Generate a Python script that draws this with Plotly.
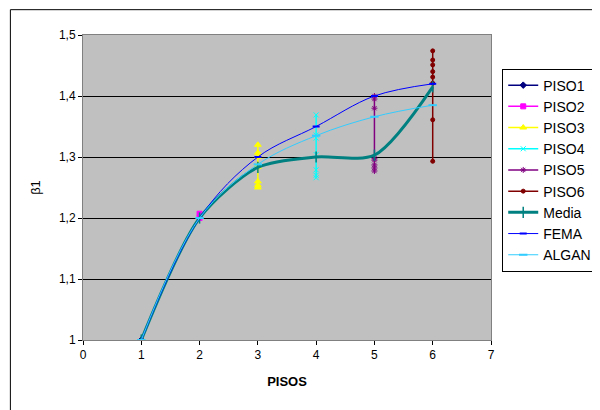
import plotly.graph_objects as go

x_media = [1, 2, 3, 4, 5, 6]
media = [1.0, 1.2, 1.283, 1.30, 1.303, 1.415]
fema = [1.0, 1.2, 1.30, 1.35, 1.40, 1.42]
algan = [1.0, 1.2, 1.288, 1.335, 1.366, 1.385]
piso_vals = {
    "PISO1": [1.0],
    "PISO2": [1.207, 1.20],
    "PISO3": [1.32, 1.307, 1.30, 1.287, 1.284, 1.26, 1.254, 1.25],
    "PISO4": [1.369, 1.336, 1.331, 1.304, 1.279, 1.27, 1.266],
    "PISO5": [1.40, 1.395, 1.38, 1.298, 1.295, 1.287, 1.282, 1.277],
    "PISO6": [1.474, 1.459, 1.451, 1.44, 1.431, 1.421, 1.361, 1.293],
}
piso_x = {"PISO1": 1, "PISO2": 2, "PISO3": 3, "PISO4": 4, "PISO5": 5, "PISO6": 6}
y_ticks = [1.0, 1.1, 1.2, 1.3, 1.4, 1.5]
y_labels = ["1", "1,1", "1,2", "1,3", "1,4", "1,5"]
styles = {
    "PISO1": ("#000080", "diamond", 5),
    "PISO2": ("#FF00FF", "square", 5),
    "PISO3": ("#FFFF00", "triangle-up", 6),
    "PISO4": ("#00FFFF", "x-thin-open", 5),
    "PISO5": ("#800080", "asterisk-open", 5),
    "PISO6": ("#800000", "circle", 4),
}

fig = go.Figure()
for name, vals in piso_vals.items():
    c, sym, sz = styles[name]
    fig.add_trace(go.Scatter(x=[piso_x[name]] * len(vals), y=vals, name=name, mode="lines+markers",
                             line=dict(color=c, width=1.5),
                             marker=dict(color=c, symbol=sym, size=sz, line=dict(color=c, width=1))))
fig.add_trace(go.Scatter(x=x_media, y=media, name="Media", mode="lines+markers",
                         line=dict(color="#008080", width=3, shape="spline", smoothing=0.8),
                         marker=dict(symbol="line-ns-open", size=8, color="#008080", line=dict(color="#008080", width=1.5))))
fig.add_trace(go.Scatter(x=x_media, y=fema, name="FEMA", mode="lines+markers",
                         line=dict(color="#0000FF", width=1, shape="spline"),
                         marker=dict(symbol="line-ew-open", size=5, color="#0000FF", line=dict(color="#0000FF", width=2))))
fig.add_trace(go.Scatter(x=x_media, y=algan, name="ALGAN", mode="lines+markers",
                         line=dict(color="#33CCFF", width=1, shape="spline"),
                         marker=dict(symbol="line-ew-open", size=6, color="#33CCFF", line=dict(color="#33CCFF", width=2))))

fig.update_layout(
    width=600, height=410, paper_bgcolor="white", plot_bgcolor="#C0C0C0",
    margin=dict(l=75, r=116, t=27, b=78),
    font=dict(family="Liberation Sans, Arial", size=12, color="black"),
    legend=dict(x=1.025, y=0.89, xanchor="left", yanchor="top", bordercolor="black", borderwidth=1,
                font=dict(size=14), tracegroupgap=0, itemwidth=30),
    shapes=[dict(type="rect", xref="paper", yref="paper", x0=-0.178, y0=-0.25, x1=1.275, y1=1.083,
                 line=dict(color="black", width=1))],
)
fig.update_xaxes(range=[0, 7], dtick=1, showgrid=False, showline=True, linecolor="#808080", mirror=True,
                 ticks="outside", ticklen=4, tickcolor="black", zeroline=False,
                 title=dict(text="<b>PISOS</b>", font=dict(size=13)))
fig.update_yaxes(range=[1, 1.5], tickvals=y_ticks, ticktext=y_labels,
                 showgrid=True, gridcolor="black", gridwidth=1, showline=True, linecolor="#808080", mirror=True,
                 ticks="outside", ticklen=4, tickcolor="black", zeroline=False,
                 title=dict(text="β1", font=dict(size=13)))
fig.write_html("out.html")
